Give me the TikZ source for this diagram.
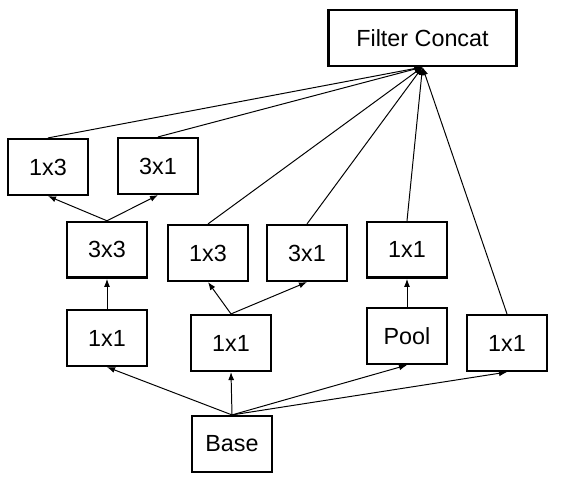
\documentclass[tikz,border=0pt]{standalone}
\usepackage{fontspec}
\setmainfont{Liberation Sans}
\usetikzlibrary{positioning,arrows.meta}

\begin{document}
\begin{tikzpicture}[
    x=0.025cm, y=-0.025cm,
    layer/.style={rectangle, draw, line width=1.8pt, minimum width=1.99cm, minimum height=1.39cm, inner sep=0pt, font=\fontsize{16.6}{20}\selectfont},
    concat/.style={layer, minimum width=4.71cm},
    arrow/.style={-{Latex[length=2mm, width=1.5mm]}, line width=0.7pt}
]
\useasboundingbox (0,0) rectangle (561,480);

% Blocks
\node[layer] (base) at (232,444) {Base};
\node[layer] (left1x1) at (107,338) {1x1};
\node[layer, above=0.75cm of left1x1] (conv3x3) {3x3};
\node[layer] (top1x3) at (48,167) {1x3};
\node[layer] (top3x1) at (158,166) {3x1};
\node[layer] (mid1x1) at (231,343) {1x1};
\node[layer] (mid1x3) at (208,253) {1x3};
\node[layer] (mid3x1) at (307,253) {3x1};
\node[layer] (pool) at (407,336) {Pool};
\node[layer, above=0.7cm of pool] (pool1x1) {1x1};
\node[layer] (right1x1) at (507,343) {1x1};
\node[concat] (concat) at (422.5,38) {Filter Concat};

% From base
\draw[arrow] (base.north) -- (left1x1.south);
\draw[arrow] (base.north) -- (mid1x1.south);
\draw[arrow] (base.north) -- (pool.south);
\draw[arrow] (base.north) -- (right1x1.south);

% Branches
\draw[arrow] (left1x1) -- (conv3x3);
\draw[arrow] (conv3x3.north) -- (top1x3.south);
\draw[arrow] (conv3x3.north) -- (top3x1.south);
\draw[arrow] (mid1x1.north) -- (mid1x3.south);
\draw[arrow] (mid1x1.north) -- (mid3x1.south);
\draw[arrow] (pool) -- (pool1x1);

% To filter concat
\foreach \n in {top1x3, top3x1, mid1x3, mid3x1, pool1x1, right1x1}
    \draw[arrow] (\n.north) -- (concat.south);

\end{tikzpicture}
\end{document}
